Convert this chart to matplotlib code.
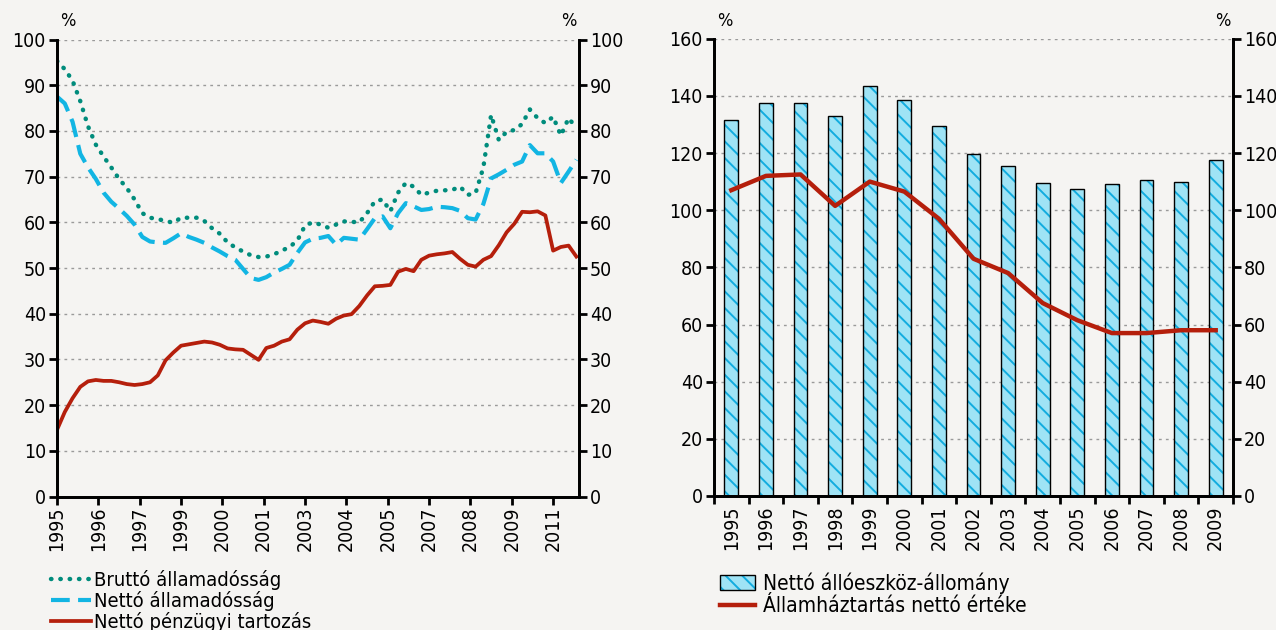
import numpy as np
import matplotlib.pyplot as plt
from matplotlib.patches import Patch

plt.rcParams['font.family'] = ['DejaVu Sans']
plt.rcParams['font.stretch'] = 'condensed'
plt.rcParams['hatch.linewidth'] = 1.4
bg = '#f5f4f2'

# left chart, quarterly data 1995Q1 - 2011Q4
brutto = [95.3, 93.5, 91, 86.5, 81, 77, 74.4, 72, 69.5, 67.5, 65, 62, 61, 60.7, 60.3, 59.9,
          61, 61, 61, 60.3, 58.7, 57.5, 55.6, 54.5, 53.6, 52.8, 52.4, 52.5, 53, 53.8, 54.6, 56,
          59.3, 60, 59.5, 58.8, 59.5, 60.2, 60.1, 60, 62, 64.6, 65, 62.4, 66.5, 68.6, 67.8, 66,
          66.5, 66.9, 67, 67.1, 67.8, 66, 66.4, 72, 83.5, 78, 79.8, 80.2, 81.5, 84.7, 82.8, 81.7,
          83.1, 79, 82.8, 80.6]
netto = [87.5, 86, 82, 75, 72, 69.5, 66.5, 64.5, 63, 61.4, 59.5, 56.8, 55.8, 55.6, 55.5, 56.5,
         57.6, 56.8, 56.2, 55.5, 54.5, 53.6, 52.6, 51.8, 49.8, 47.8, 47.4, 48, 49, 49.8, 50.7, 53.3,
         55.6, 56.4, 56.6, 57, 55.1, 56.6, 56.4, 56.2, 58.5, 60.9, 61.3, 58.7, 62, 64.2, 63.5, 62.7,
         62.9, 63.4, 63.3, 63.1, 62.5, 60.9, 60.6, 64, 69.6, 70.5, 71.5, 72.6, 73.3, 76.9, 75.1, 75.1,
         73.3, 68.6, 71.1, 73.7]
penzugyi = [14.6, 18.5, 21.5, 24, 25.2, 25.5, 25.3, 25.3, 25, 24.6, 24.4, 24.6, 25, 26.5, 29.8, 31.5,
            33, 33.3, 33.6, 33.9, 33.7, 33.2, 32.4, 32.2, 32.1, 31, 29.9, 32.5, 33, 33.9, 34.4, 36.5,
            37.9, 38.5, 38.2, 37.8, 38.9, 39.6, 39.9, 41.7, 44, 46, 46.1, 46.3, 49.2, 49.8, 49.3, 51.8,
            52.7, 53, 53.2, 53.5, 52, 50.7, 50.3, 51.8, 52.6, 55, 57.8, 59.7, 62.3, 62.2, 62.4, 61.5,
            53.8, 54.6, 54.9, 52.5]
left_ticklabels = ['1995', '1996', '1997', '1999', '2000', '2001', '2003', '2004',
                   '2005', '2007', '2008', '2009', '2011']

# right chart, yearly data
years = ['1995', '1996', '1997', '1998', '1999', '2000', '2001', '2002',
         '2003', '2004', '2005', '2006', '2007', '2008', '2009']
alloeszkoz = [131.5, 137.5, 137.5, 133, 143.5, 138.5, 129.5, 119.5,
              115.5, 109.5, 107.5, 109, 110.5, 110, 117.5]
nettoertek = [107, 112, 112.5, 101.5, 110, 106.5, 97, 83, 78, 67.5, 61.5, 57, 57, 58, 58]

green = '#008c7c'
blue = '#12b5e3'
red = '#b51f0c'
barfill = '#9fe3f5'
hatchcol = '#12acdf'

fig = plt.figure(figsize=(12.76, 6.3), dpi=100, facecolor=bg)

def style_axes(ax, ax2, top, step):
    for a in (ax, ax2):
        a.set_facecolor('none')
        a.spines['top'].set_visible(False)
        a.spines['left'].set_linewidth(2)
        a.spines['right'].set_linewidth(2)
        a.spines['bottom'].set_linewidth(2)
        a.set_ylim(0, top)
        a.set_yticks(np.arange(0, top + 1, step))
        a.tick_params(axis='y', labelsize=14, width=2, length=6, direction='out', pad=2)
    ax.yaxis.grid(True, linestyle=(0, (2, 3)), color='#9a9a9a', linewidth=1)
    ax.set_axisbelow(True)
    ax.text(0.005, 1.02, '%', transform=ax.transAxes, fontsize=13, ha='left', va='bottom')
    ax.text(0.995, 1.02, '%', transform=ax.transAxes, fontsize=13, ha='right', va='bottom')

# ---- left chart
ax = fig.add_axes([0.0447, 0.2119, 0.409, 0.7254])
ax.set_facecolor(bg)
ax2 = ax.twinx()
style_axes(ax, ax2, 100, 10)
q = np.arange(len(brutto))
ax.plot(q, brutto, color=green, lw=3.2, linestyle=(0, (0.1, 2.0)), dash_capstyle='round',
        label='Bruttó államadósság')
ax.plot(q, netto, color=blue, lw=3, linestyle=(0, (4.5, 2)), label='Nettó államadósság')
ax.plot(q, penzugyi, color=red, lw=2.7, label='Nettó pénzügyi tartozás')
ax.set_xlim(0, 67.33)
ax.set_xticks(np.arange(13) * 16 / 3)
ax.set_xticklabels(left_ticklabels, rotation=90, fontsize=14)
ax.tick_params(axis='x', width=2, length=6, direction='out', pad=1)
h, l = ax.get_legend_handles_labels()
fig.legend(h, l, loc='upper left', bbox_to_anchor=(0.040, 0.095), frameon=False, fontsize=14.5,
           handlelength=2.0, handletextpad=0.15, labelspacing=0.05, borderpad=0, borderaxespad=0)

# ---- right chart
bx = fig.add_axes([0.5596, 0.2127, 0.4067, 0.7259])
bx.set_facecolor(bg)
bx2 = bx.twinx()
style_axes(bx, bx2, 160, 20)
x = np.arange(len(years))
bx.bar(x, alloeszkoz, width=0.4, color=barfill, edgecolor=hatchcol, hatch='\\\\', linewidth=0, zorder=2)
bx.bar(x, alloeszkoz, width=0.4, fill=False, edgecolor='black', linewidth=1, zorder=3)
bx.plot(x, nettoertek, color=red, lw=3.2, zorder=4)
bx.set_xlim(-0.5, len(years) - 0.5)
bx.set_xticks(np.arange(len(years) + 1) - 0.5)
bx.set_xticklabels([])
bx.set_xticks(x, minor=True)
bx.set_xticklabels(years, minor=True, rotation=90, fontsize=14)
bx.tick_params(axis='x', which='major', width=2, length=6, direction='out')
bx.tick_params(axis='x', which='minor', length=0, pad=7)
bar_handle = (Patch(facecolor=barfill, edgecolor=hatchcol, hatch='\\\\', linewidth=0),
              Patch(fill=False, edgecolor='black', linewidth=1))
line_handle = plt.Line2D([], [], color=red, lw=3.2)
fig.legend([bar_handle, line_handle], ['Nettó állóeszköz-állomány', 'Államháztartás nettó értéke'],
           loc='upper left', bbox_to_anchor=(0.564, 0.092), frameon=False, fontsize=15,
           handlelength=1.7, handletextpad=0.4, labelspacing=0.12, borderpad=0, borderaxespad=0)

fig.savefig('out.png', dpi=100, facecolor=bg)
